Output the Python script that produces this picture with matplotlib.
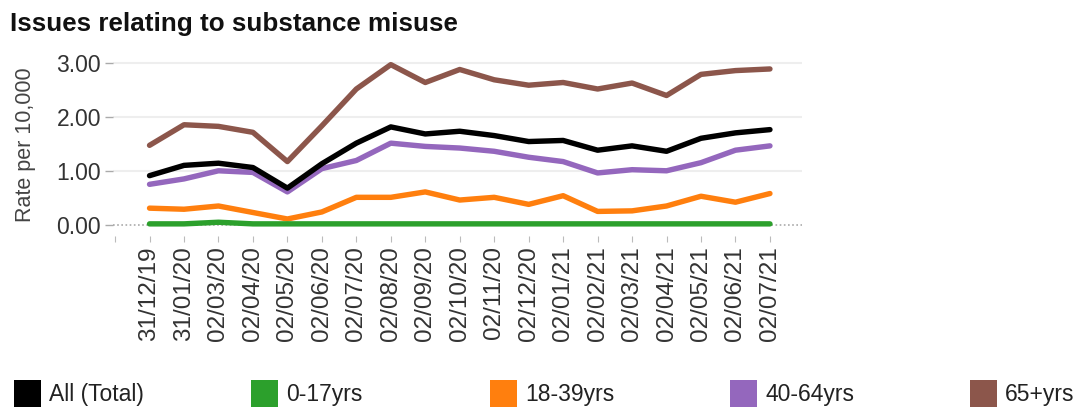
import matplotlib
matplotlib.use("Agg")
import matplotlib.pyplot as plt
from matplotlib.patches import Rectangle

plt.rcParams['font.family'] = ['Liberation Sans', 'DejaVu Sans']

dates = ["31/12/19", "31/01/20", "02/03/20", "02/04/20", "02/05/20", "02/06/20",
         "02/07/20", "02/08/20", "02/09/20", "02/10/20", "02/11/20", "02/12/20",
         "02/01/21", "02/02/21", "02/03/21", "02/04/21", "02/05/21", "02/06/21",
         "02/07/21"]

all_total = [0.92, 1.11, 1.15, 1.07, 0.69, 1.14, 1.52, 1.82, 1.69, 1.74, 1.66, 1.55,
             1.57, 1.39, 1.47, 1.37, 1.61, 1.71, 1.77]
age_0_17 = [0.03, 0.03, 0.06, 0.03, 0.03, 0.03, 0.03, 0.03, 0.03, 0.03, 0.03, 0.03,
            0.03, 0.03, 0.03, 0.03, 0.03, 0.03, 0.03]
age_18_39 = [0.32, 0.30, 0.36, 0.24, 0.12, 0.25, 0.52, 0.52, 0.62, 0.47, 0.52, 0.39,
             0.55, 0.26, 0.27, 0.36, 0.54, 0.43, 0.59]
age_40_64 = [0.76, 0.86, 1.01, 0.98, 0.62, 1.05, 1.20, 1.52, 1.46, 1.43, 1.37, 1.26,
             1.18, 0.97, 1.03, 1.01, 1.16, 1.39, 1.47]
age_65_plus = [1.48, 1.86, 1.83, 1.72, 1.18, 1.84, 2.52, 2.97, 2.64, 2.88, 2.69, 2.59,
               2.64, 2.52, 2.63, 2.40, 2.79, 2.86, 2.89]

series_names = ["All (Total)", "0-17yrs", "18-39yrs", "40-64yrs", "65+yrs"]
series_values = [all_total, age_0_17, age_18_39, age_40_64, age_65_plus]
series_colors = ["#000000", "#2ca02c", "#ff7f0e", "#9467bd", "#8c564b"]

yticks = [0.0, 1.0, 2.0, 3.0]

W, H = 1084, 412
fig = plt.figure(figsize=(W / 100, H / 100), dpi=100)

ax_l, ax_r, ax_b, ax_t = 113, 802, 236, 50
ax = fig.add_axes([ax_l / W, 1 - ax_b / H, (ax_r - ax_l) / W, (ax_b - ax_t) / H])

x = list(range(len(dates)))
n = len(series_names)
for i, (name, vals, col) in enumerate(zip(series_names, series_values, series_colors)):
    ax.plot(x, vals, color=col, lw=3.9, solid_capstyle='round',
            solid_joinstyle='round', zorder=10 + (n - i))

ax.set_xlim(-1.06, 18.93)
ax.set_ylim(-0.194, 3.24)

for yv in yticks:
    if yv == 0:
        ax.axhline(yv, color='#aaaaaa', lw=1.2, ls=(0, (1, 1.5)), zorder=1)
    else:
        ax.axhline(yv, color='#eeeeee', lw=1.5, zorder=1)

ax.set_yticks(yticks)
ax.set_yticklabels([f"{v:.2f}" for v in yticks])
ax.set_xticks([-1] + x)
ax.set_xticklabels([""] + dates, rotation=90)

ax.tick_params(axis='y', length=5.5, width=1.0, color='#aaaaaa', pad=3,
               labelsize=16.5, labelcolor='#333333')
ax.tick_params(axis='x', length=4.5, width=0.8, color='#bbbbbb', pad=3,
               labelsize=17.5, labelcolor='#333333')
for sp in ax.spines.values():
    sp.set_visible(False)

fig.text(10 / W, 1 - 31 / H, "Issues relating to substance misuse",
         fontsize=18.7, fontweight='bold', color='#111111', va='baseline', ha='left')

fig.text(26 / W, 1 - 145 / H, "Rate per 10,000", rotation=90, fontsize=15.5,
         color='#444444', ha='center', va='center')

legend_x = [14, 251, 490, 730, 970]
for lx, name, col in zip(legend_x, series_names, series_colors):
    fig.add_artist(Rectangle((lx / W, 1 - 407 / H), 27 / W, 27 / H,
                             transform=fig.transFigure, facecolor=col,
                             edgecolor='none'))
    fig.text((lx + 35) / W, 1 - 395 / H, name, fontsize=16.5, color='#222222',
             ha='left', va='center')

fig.savefig("out.png", dpi=100)
